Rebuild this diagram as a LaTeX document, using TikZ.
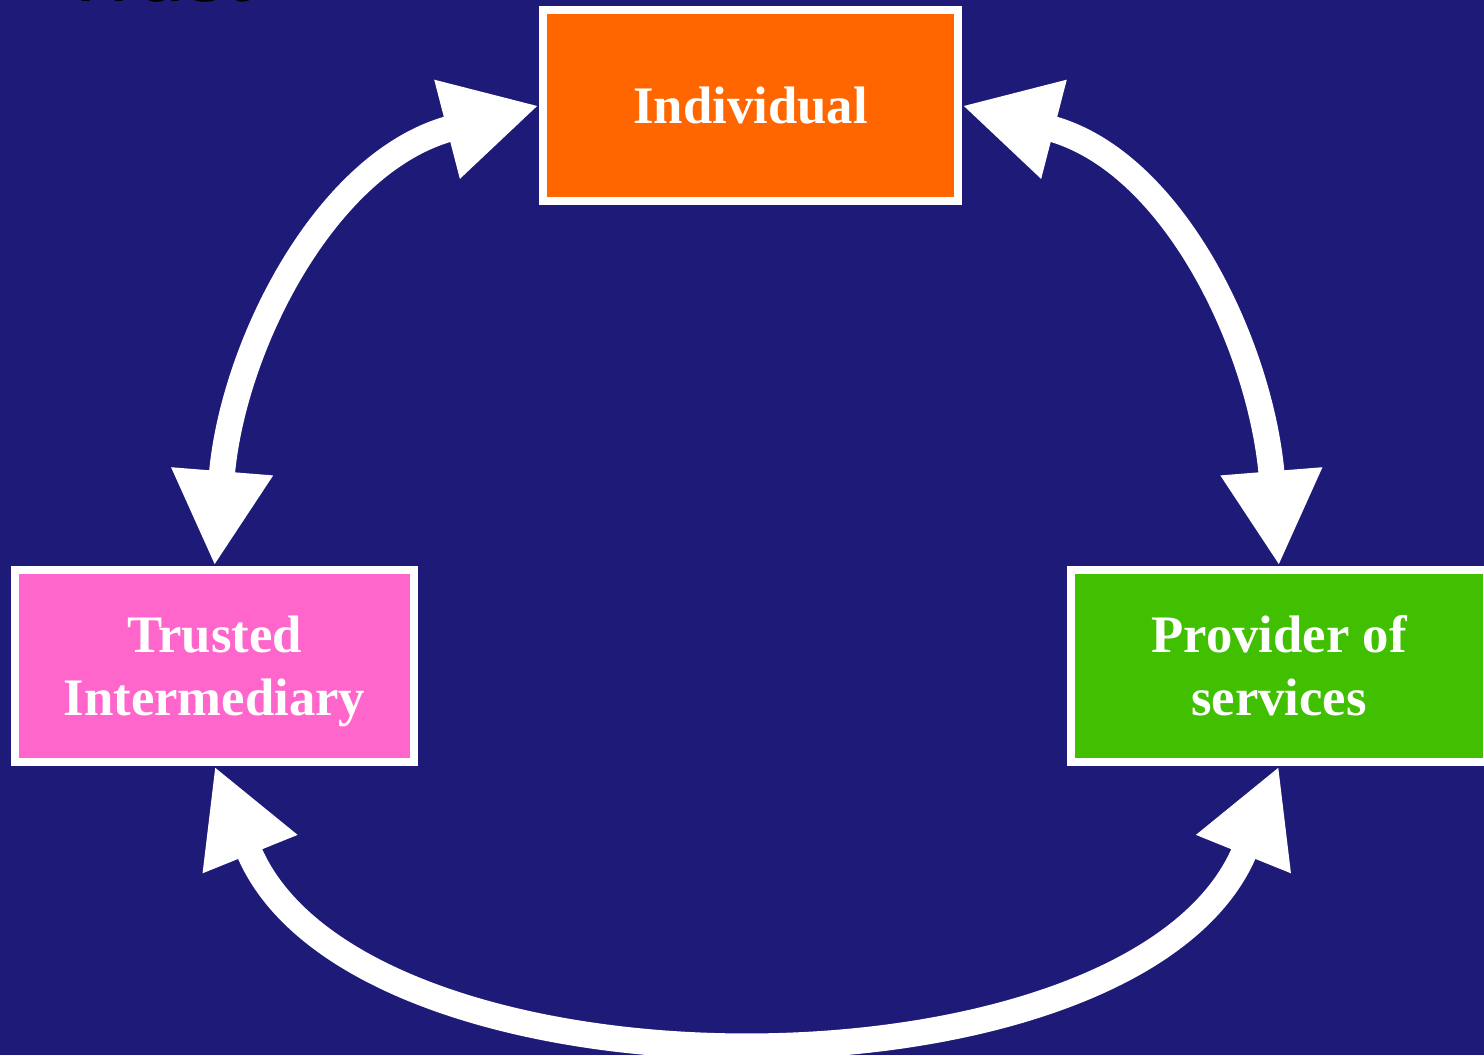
\documentclass[tikz,border=0pt]{standalone}
\usepackage{fontspec}
\setmainfont{Liberation Serif}
\newfontfamily\titlefont{Liberation Sans}
\usetikzlibrary{arrows.meta}
\definecolor{bgblue}{RGB}{30,26,120}
\definecolor{indorange}{RGB}{255,102,0}
\definecolor{trustpink}{RGB}{255,102,204}
\definecolor{provgreen}{RGB}{64,192,0}

\begin{document}
\begin{tikzpicture}[
    party/.style={draw=white, line width=0.08cm, text=white, align=center,
      font=\fontsize{15}{18}\selectfont\bfseries, minimum height=1.92cm},
    link/.style={white, line width=0.26cm,
      {Triangle[length=0.95cm, width=0.95cm]}-{Triangle[length=0.95cm, width=0.95cm]}}
  ]
  % רקע
  \useasboundingbox (0,0) rectangle (14.84,10.55);
  \fill[bgblue] (0,0) rectangle (14.84,10.55);

  % כותרת (חתוכה בקצה העליון)
  \node[anchor=base west, inner sep=0, font=\titlefont\fontsize{24}{28}\selectfont] (title) at (0.6,10.54) {Trust};

  % שלושת הצדדים
  \node[party, fill=indorange, minimum width=4.15cm, minimum height=1.91cm] (ind) at (7.505,9.495) {Individual};
  \node[party, fill=trustpink, minimum width=3.99cm, text depth=0pt] (trust) at (2.145,3.89) {Trusted\\Intermediary};
  \node[party, fill=provgreen, minimum width=4.16cm] (prov) at (12.79,3.89) {Provider of\\services};

  % חיצים דו-כיווניים
  \draw[link] (ind.west) to[out=194.5, in=85.4] (trust.north);
  \draw[link] (ind.east) to[out=-14.5, in=94.6] (prov.north);
  \draw[link] (trust.south) to[out=-68, in=-112, looseness=0.9] (prov.south);
\end{tikzpicture}
\end{document}
